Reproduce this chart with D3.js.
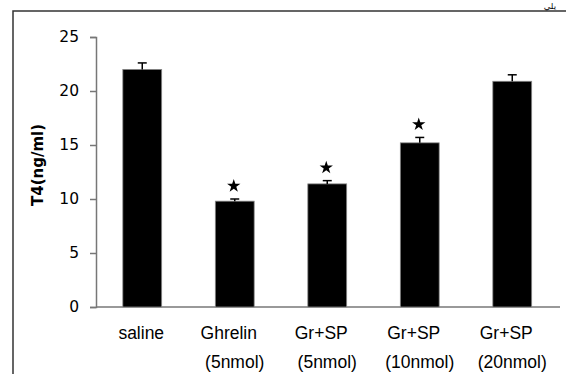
<!DOCTYPE html>
<html><head><meta charset="utf-8">
<script src="https://cdn.jsdelivr.net/npm/d3@7"></script>
<style>body{margin:0;background:#fff}svg{display:block}</style>
</head><body>
<svg id="c" width="566" height="374"></svg>
<script>
const categories = ["saline", "Ghrelin", "Gr+SP", "Gr+SP", "Gr+SP"];
const subLabels = ["", "(5nmol)", "(5nmol)", "(10nmol)", "(20nmol)"];
const values = [22.0, 9.8, 11.4, 15.2, 20.9];
const errors = [0.6, 0.2, 0.3, 0.5, 0.6];
const significant = [false, true, true, true, false];
const yTicks = [0, 5, 10, 15, 20, 25];
const yTitle = "T4(ng/ml)";

const svg = d3.select("#c");
// frame
svg.append("path").attr("d","M13,374V11H566").attr("fill","none").attr("stroke","#333").attr("stroke-width",1.5);
svg.append("text").attr("x",556).attr("y",9).attr("text-anchor","end")
  .attr("font-family","DejaVu Sans").attr("font-size",8.5).attr("fill","#000").text("يلي");

const x = d3.scaleBand().domain(d3.range(categories.length)).range([96, 558.5]).paddingInner(0.58).paddingOuter(0.29);
const y = d3.scaleLinear().domain([0, 25]).range([307, 37]);

// y axis
const ya = svg.append("g").attr("transform","translate(96,0)")
  .call(d3.axisLeft(y).tickValues(yTicks).tickSize(6).tickPadding(11));
ya.select(".domain").attr("stroke","#777").attr("stroke-width",1.5);
ya.selectAll(".tick line").attr("stroke","#777").attr("stroke-width",1.5);
ya.selectAll(".tick text").attr("font-family","DejaVu Sans").attr("font-size",15.5).attr("fill","#000");

// x axis line
svg.append("line").attr("x1",96).attr("x2",560).attr("y1",y(0)).attr("y2",y(0)).attr("stroke","#777").attr("stroke-width",1.5);

// bars
svg.selectAll("rect.bar").data(values).join("rect").attr("class","bar")
  .attr("x",(d,i)=>x(i)).attr("width",x.bandwidth())
  .attr("y",d=>y(d)).attr("height",d=>y(0)-y(d))
  .attr("fill","#000").attr("stroke","#888").attr("stroke-width",0.8);

// error bars
values.forEach((v,i)=>{
  const cx = x(i)+x.bandwidth()/2;
  svg.append("line").attr("x1",cx).attr("x2",cx).attr("y1",y(v)).attr("y2",y(v+errors[i])).attr("stroke","#000").attr("stroke-width",1.5);
  svg.append("line").attr("x1",cx-4.5).attr("x2",cx+4.5).attr("y1",y(v+errors[i])).attr("y2",y(v+errors[i])).attr("stroke","#000").attr("stroke-width",1.5);
  if (significant[i]) {
    svg.append("path").attr("d", d3.symbol(d3.symbolStar, 55)())
      .attr("transform",`translate(${cx-1},${y(v+errors[i])-13})`).attr("fill","#000");
  }
});

// x labels
categories.forEach((c,i)=>{
  const cx = x(i)+x.bandwidth()/2;
  const dx = subLabels[i] ? -6 : -1;
  svg.append("text").attr("x",cx+dx).attr("y",339).attr("text-anchor","middle")
    .attr("font-family","Liberation Sans, Arial").attr("font-size",17.5).attr("fill","#000").text(c);
  if (subLabels[i]) svg.append("text").attr("x",cx).attr("y",368).attr("text-anchor","middle")
    .attr("font-family","Liberation Sans, Arial").attr("font-size",17.5).attr("fill","#000").text(subLabels[i]);
});

// y title
svg.append("text").attr("transform","translate(43,165) rotate(-90)").attr("text-anchor","middle")
  .attr("font-family","DejaVu Sans").attr("font-weight","bold").attr("font-size",15).attr("fill","#000").text(yTitle);
</script>
</body></html>
